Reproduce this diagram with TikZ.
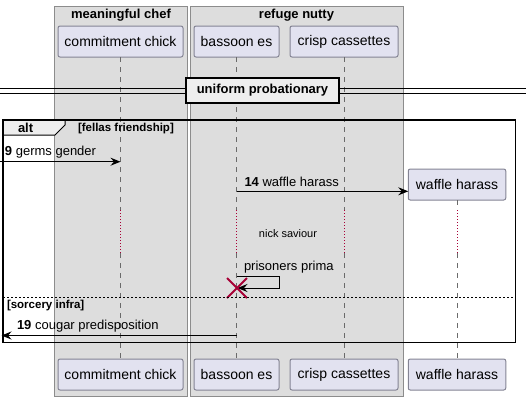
\documentclass[tikz,border=0pt]{standalone}
\usepackage{fontspec}
\setmainfont{Liberation Sans}
\usetikzlibrary{arrows.meta, positioning, shapes.misc}

\definecolor{grpfill}{HTML}{DDDDDD}
\definecolor{grpline}{HTML}{8C8C8C}
\definecolor{partfill}{HTML}{E2E2F0}
\definecolor{partline}{HTML}{848494}
\definecolor{lifegray}{HTML}{6A6A6A}
\definecolor{delayred}{HTML}{A80036}
\definecolor{tabfill}{HTML}{EEEEEE}

\newcommand{\fsz}[1]{\fontsize{#1}{#1}\selectfont}

\begin{document}
\begin{tikzpicture}[x=1pt, y=-1pt, >={Stealth[length=10pt, width=8pt, inset=3.5pt]},
    inner sep=0pt, outer sep=0pt, line width=1pt, font=\fsz{13}]

  \tikzstyle{grpbox}=[draw=grpline, fill=grpfill]
  \tikzstyle{grptitle}=[font=\bfseries\fsz{13}, anchor=base]
  \tikzstyle{partbox}=[draw=partline, fill=partfill, rounded corners=2pt,
    minimum height=31pt, font=\fsz{14}]
  \tikzstyle{life}=[lifegray, line width=0.8pt, dash pattern=on 5pt off 5pt]
  \tikzstyle{pause}=[delayred, line width=0.8pt, dash pattern=on 1pt off 2pt]
  \tikzstyle{msgtext}=[anchor=base west]
  \tikzstyle{guard}=[font=\bfseries\fsz{11.5}, anchor=base west]

  \useasboundingbox (0,0) rectangle (531,400);

  \draw[grpbox] (54.5,6) rectangle (187,396);
  \draw[grpbox] (190,6) rectangle (403,396);
  \node[grptitle] (CHEF) at (121,18.5) {meaningful chef};
  \node[grptitle] (NUTTY) at (296.5,18.5) {refuge nutty};

  \node[partbox, minimum width=125pt] (CHICK) at (120.5,41.5) {commitment chick};
  \node[partbox, minimum width=85pt] (BASSOON) at (236.5,41.5) {bassoon es};
  \node[partbox, minimum width=108pt] (CRISP) at (344,41.5) {crisp cassettes};
  \node[partbox, minimum width=97.5pt] (WAFFLE) at (457,184.5) {waffle harass};

  \node[partbox, minimum width=125pt] (CHICKB) at (120.5,374.5) {commitment chick};
  \node[partbox, minimum width=85pt] (BASSOONB) at (236.5,374.5) {bassoon es};
  \node[partbox, minimum width=108pt] (CRISPB) at (344,374.5) {crisp cassettes};
  \node[partbox, minimum width=97.5pt] (WAFFLEB) at (457,374.5) {waffle harass};

  \coordinate (CHICKP) at (120.5,210);
  \coordinate (CHICKQ) at (120.5,253);
  \coordinate (BASSOONP) at (236.5,210);
  \coordinate (BASSOONQ) at (236.5,253);
  \coordinate (CRISPP) at (344,210);
  \coordinate (CRISPQ) at (344,253);
  \coordinate (WAFFLEP) at (457,210);
  \coordinate (WAFFLEQ) at (457,253);

  \draw[life] (CHICK) -- (CHICKP);
  \draw[pause] (CHICKP) -- (CHICKQ);
  \draw[life] (CHICKQ) -- (CHICKB);
  \draw[life] (BASSOON) -- (BASSOONP);
  \draw[pause] (BASSOONP) -- (BASSOONQ);
  \draw[life] (BASSOONQ) -- (BASSOONB);
  \draw[life] (CRISP) -- (CRISPP);
  \draw[pause] (CRISPP) -- (CRISPQ);
  \draw[life] (CRISPQ) -- (CRISPB);
  \draw[life] (WAFFLE) -- (WAFFLEP);
  \draw[pause] (WAFFLEP) -- (WAFFLEQ);
  \draw[life] (WAFFLEQ) -- (WAFFLEB);

  \draw (0,88.7) -- (526,88.7);
  \draw (0,93) -- (526,93);
  \node[draw, line width=1.5pt, fill=tabfill, font=\bfseries\fsz{13},
    minimum width=153pt, minimum height=25pt] (UNIFORM) at (262.5,90.5)
    {uniform probationary};

  \draw[fill=tabfill] (3,120) -- (65,120) -- (65,125) -- (55,135) -- (3,135) -- cycle;
  \draw[line width=1.5pt] (3,120) rectangle (515.5,342.5);
  \node[font=\bfseries\fsz{13}, anchor=base west] (ALT) at (18,132.5) {alt};
  \node[guard] (FELLAS) at (78,131.5) {[fellas friendship]};

  \coordinate (IN9) at (0,161.7);
  \coordinate (CHICK9) at (120.5,161.7);
  \draw[->] (IN9) -- (CHICK9);
  \node[msgtext] (L9) at (5,155.5) {\textbf{9} germs gender};

  \coordinate (BASSOON14) at (236.5,191.3);
  \draw[->] (BASSOON14) -- (BASSOON14 -| WAFFLE.west);
  \node[msgtext] (L14) at (244.5,186) {\textbf{14} waffle harass};

  \node[font=\fsz{11}] (NICK) at (288,233.3) {nick saviour};

  \coordinate (SELFA) at (236.5,276);
  \coordinate (SELFZ) at (237.5,288);
  \draw[->] (SELFA) -- ++(42.5,0) -- ++(0,12) -- (SELFZ);
  \node[msgtext] (LSELF) at (244,270.5) {prisoners prima};
  \node[cross out, draw=delayred, line width=2pt, minimum size=20pt] (KILL) at (237,288) {};

  \draw[dash pattern=on 2pt off 2pt] (3,297.3) -- (515.5,297.3);
  \node[guard] (SORCERY) at (7,308.5) {[sorcery infra]};

  \coordinate (BASSOON19) at (236.5,335.5);
  \coordinate (OUT19) at (1.5,335.5);
  \draw[->] (BASSOON19) -- (OUT19);
  \node[msgtext] (L19) at (17,329.5) {\textbf{19} cougar predisposition};
\end{tikzpicture}
\end{document}
